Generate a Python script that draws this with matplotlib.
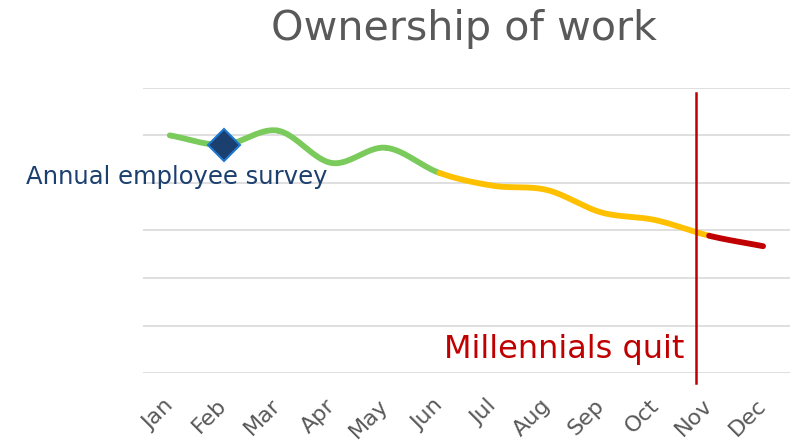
import numpy as np
import matplotlib
matplotlib.use("Agg")
import matplotlib.pyplot as plt
import matplotlib.transforms as mtransforms

months = ["Jan", "Feb", "Mar", "Apr", "May", "Jun",
          "Jul", "Aug", "Sep", "Oct", "Nov", "Dec"]
ownership = [5.0, 4.8, 5.1, 4.42, 4.74, 4.21, 3.94, 3.85, 3.38, 3.22, 2.89, 2.67]

# colour segments: (first month index, last month index, colour)
segments = [(0, 5, "#7ACB5B"), (5, 10, "#FFC000"), (10, 11, "#C00000")]
survey_month = 1
quit_pos = 9.76


def smooth(xs, ys, n=30):
    # Catmull-Rom curve through the points, like Excel's smoothed line
    px = np.r_[2 * xs[0] - xs[1], xs, 2 * xs[-1] - xs[-2]]
    py = np.r_[2 * ys[0] - ys[1], ys, 2 * ys[-1] - ys[-2]]
    outx, outy = [], []
    for i in range(1, len(px) - 2):
        t = np.linspace(0, 1, n)
        for p, out in ((px, outx), (py, outy)):
            p0, p1, p2, p3 = p[i - 1], p[i], p[i + 1], p[i + 2]
            out.append(0.5 * (2 * p1 + (-p0 + p2) * t
                              + (2 * p0 - 5 * p1 + 4 * p2 - p3) * t ** 2
                              + (-p0 + 3 * p1 - 3 * p2 + p3) * t ** 3))
    return outx, outy


fig = plt.figure(figsize=(7.98, 4.48), dpi=100)
ax = fig.add_axes([0.179, 0.167, 0.811, 0.637])

x = np.arange(len(months), dtype=float)
y = np.array(ownership)
sx, sy = smooth(x, y)
for a, b, col in segments:
    cx = np.concatenate(sx[a:b])
    cy = np.concatenate(sy[a:b])
    ax.plot(cx, cy, color=col, lw=4.2, solid_capstyle="round", zorder=3)

ax.plot(x[survey_month], y[survey_month], marker="D", ms=16,
        mfc="#1B3F6E", mec="#1F78D0", mew=1.5, zorder=5)
ax.text(0.13, 4.13, "Annual employee survey",
        color="#1B3F6E", fontsize=17.5, ha="center", va="center")

ax.plot([quit_pos, quit_pos], [-0.21, 5.9], color="#C00000", lw=1.8,
        clip_on=False, zorder=4)
ax.text(quit_pos - 0.22, 0.5, "Millennials quit", color="#C00000",
        fontsize=23, ha="right", va="center")

ax.set_xlim(-0.5, 11.5)
ax.set_ylim(0, 6)
ax.set_yticks(np.arange(0, 7))
ax.yaxis.grid(True, color="#D9D9D9", lw=1.2)
ax.set_yticklabels([])
ax.tick_params(axis="y", length=0)
ax.set_xticks(x)
ax.set_xticklabels(months, rotation=45, ha="right", rotation_mode="anchor",
                   color="#595959", fontsize=16)
ax.tick_params(axis="x", length=0, pad=16)
shift = mtransforms.ScaledTranslation(-7 / 100, 0, fig.dpi_scale_trans)
for lab in ax.get_xticklabels():
    lab.set_transform(lab.get_transform() + shift)
for s in ax.spines.values():
    s.set_visible(False)

fig.text(0.581, 0.935, "Ownership of work", ha="center", va="center",
         fontsize=29.7, color="#595959")

fig.savefig("out.png", dpi=100)
